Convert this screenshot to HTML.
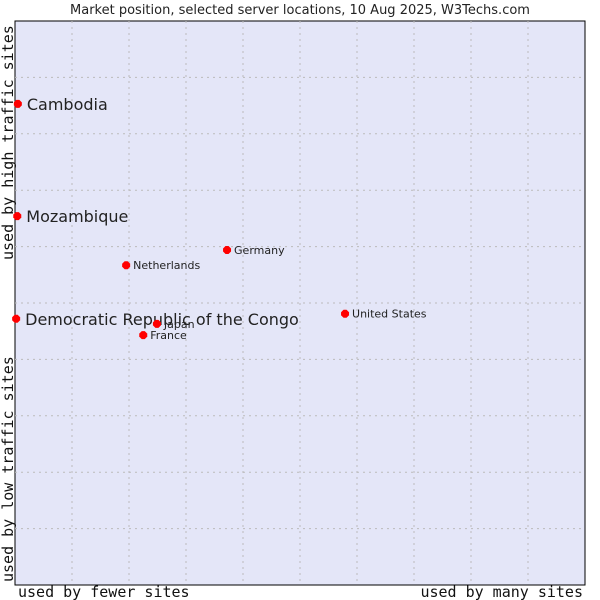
<!DOCTYPE html>
<html><head><meta charset="utf-8"><style>
body{margin:0;background:#fff;}
svg{display:block;font-family:"DejaVu Sans","Liberation Sans",sans-serif;}
</style></head><body>
<svg id="chart" width="600" height="600">
<text x="300" y="14" font-size="13" text-anchor="middle" fill="#222">Market position, selected server locations, 10 Aug 2025, W3Techs.com</text>
<rect x="15" y="21" width="570" height="564" fill="#e4e6f8" stroke="#000" stroke-width="1"/>
<g id="grid"></g>
<g id="marks"></g>
<text x="18" y="597" font-family="DejaVu Sans Mono,Liberation Mono,monospace" font-size="15" fill="#111">used by fewer sites</text>
<text x="583" y="597" text-anchor="end" font-family="DejaVu Sans Mono,Liberation Mono,monospace" font-size="15" fill="#111">used by many sites</text>
<text transform="translate(13,582) rotate(-90)" font-family="DejaVu Sans Mono,Liberation Mono,monospace" font-size="15" fill="#111">used by low traffic sites</text>
<text transform="translate(13,260) rotate(-90)" font-family="DejaVu Sans Mono,Liberation Mono,monospace" font-size="15" fill="#111">used by high traffic sites</text>
</svg>
<script>
const names=["Cambodia","Mozambique","Democratic Republic of the Congo","Netherlands","Germany","United States","Japan","France"];
const xVals=[0.5,0.4,0.2,19.5,37.2,57.9,24.9,22.5];
const yVals=[85.3,65.4,47.2,56.7,59.4,48.1,46.3,44.3];
const big=[true,true,true,false,false,false,false,false];
const NS="http://www.w3.org/2000/svg";
const X0=15,X1=585,Y0=585,Y1=21;
function sx(v){return X0+v/100*(X1-X0);}
function sy(v){return Y0-v/100*(Y0-Y1);}
const grid=document.getElementById('grid');
for(let i=1;i<10;i++){
 const v=document.createElementNS(NS,'line');
 
 
 v.setAttribute('x1',sx(i*10));v.setAttribute('x2',sx(i*10));v.setAttribute('y1',Y1);v.setAttribute('y2',Y0);
 v.setAttribute('stroke','#bbb');v.setAttribute('stroke-dasharray','2,4');grid.appendChild(v);
 const h=document.createElementNS(NS,'line');
 
 
 h.setAttribute('y1',sy(i*10));h.setAttribute('y2',sy(i*10));h.setAttribute('x1',X0);h.setAttribute('x2',X1);
 h.setAttribute('stroke','#bbb');h.setAttribute('stroke-dasharray','2,4');grid.appendChild(h);
}
const marks=document.getElementById('marks');
names.forEach((n,i)=>{
 const x=sx(xVals[i]),y=sy(yVals[i]);
 const p=document.createElementNS(NS,'path');
 
 
 p.setAttribute('d',`M${x-4},${y-1.5}L${x-1.5},${y-4}L${x+1.5},${y-4}L${x+4},${y-1.5}L${x+4},${y+1.5}L${x+1.5},${y+4}L${x-1.5},${y+4}L${x-4},${y+1.5}Z`);
 p.setAttribute('fill','#f00');marks.appendChild(p);
 const t=document.createElementNS(NS,'text');
 
 
 t.setAttribute('x',x+(big[i]?9:7));t.setAttribute('y',y+(big[i]?6:4));
 t.setAttribute('font-size',big[i]?16:11);t.setAttribute('fill','#222');
 t.textContent=n;marks.appendChild(t);
});
</script>
</body></html>
